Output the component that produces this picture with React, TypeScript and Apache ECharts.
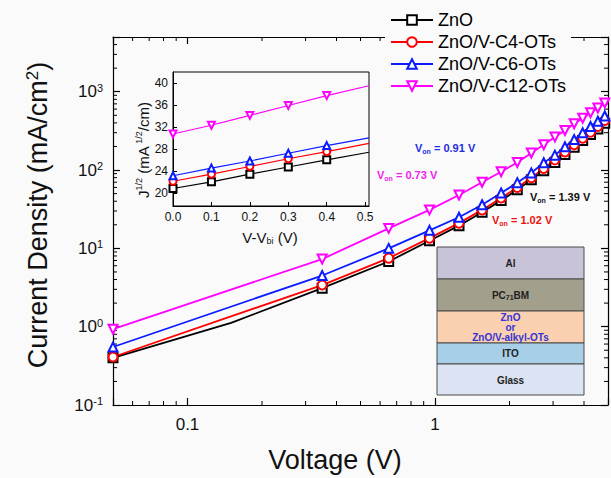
import React, { useEffect, useRef } from "react";
import * as echarts from "echarts";

const FONT = "'Liberation Sans', Arial, Helvetica, sans-serif";
const BG = "#fafafa";

// Main J-V data (log-log)
const voltage = [0.05, 0.35, 0.65, 0.95, 1.25, 1.55, 1.85, 2.15, 2.45, 2.75, 3.05, 3.35, 3.65, 3.95, 4.25, 4.55, 4.85];
const voltageZnO = [0.05, 0.15, 0.35, 0.65, 0.95, 1.25, 1.55, 1.85, 2.15, 2.45, 2.75, 3.05, 3.35, 3.65, 3.95, 4.25, 4.55, 4.85];
const jZnO = [0.4, 1.12, 3.1, 6.8, 12.5, 19.5, 29, 41, 56, 75, 98, 125, 158, 195, 238, 285, 335, 395];
const jC4 = [0.41, 3.4, 7.5, 13.5, 21, 31, 44, 60, 80, 105, 135, 170, 210, 255, 305, 360, 430];
const jC6 = [0.55, 4.5, 10, 17, 25, 36, 51, 69, 92, 124, 155, 198, 245, 300, 360, 420, 490];
const jC12 = [0.93, 7.3, 18, 31, 48, 70, 95, 125, 165, 210, 265, 320, 390, 460, 540, 620, 720];

// Inset: J^1/2 vs V - Vbi
const insetV = [0, 0.1, 0.2, 0.3, 0.4, 0.51];
const sqZnO = [20.8, 22.0, 23.4, 24.7, 26.0, 27.4];
const sqC4 = [22.1, 23.4, 24.8, 26.2, 27.5, 29.0];
const sqC6 = [23.1, 24.5, 25.8, 27.2, 28.6, 30.0];
const sqC12 = [30.7, 32.3, 34.1, 35.9, 37.7, 39.5];

const names = ["ZnO", "ZnO/V-C4-OTs", "ZnO/V-C6-OTs", "ZnO/V-C12-OTs"];
const colors = ["#000000", "#ff0000", "#0a1cff", "#ff00ff"];
const symbols = ["emptyRect", "emptyCircle", "emptyTriangle", "emptyTriangle"];
const rotations = [0, 0, 0, 180];

const xMinorTicks = [0.06, 0.07, 0.08, 0.09, 0.2, 0.3, 0.4, 0.5, 0.6, 0.7, 0.8, 0.9, 2, 3, 4];
const yMinorTicks = [
  0.2, 0.3, 0.4, 0.5, 0.6, 0.7, 0.8, 0.9,
  2, 3, 4, 5, 6, 7, 8, 9,
  20, 30, 40, 50, 60, 70, 80, 90,
  200, 300, 400, 500, 600, 700, 800, 900,
  2000, 3000, 4000,
];
const insetXTicks = [0, 0.1, 0.2, 0.3, 0.4, 0.5];
const insetYTicks = [20, 24, 28, 32, 36, 40];

const isDecade = (v: number) => Math.abs(Math.log10(v) - Math.round(Math.log10(v))) < 1e-6;

export default function App() {
  const ref = useRef<HTMLDivElement>(null);
  useEffect(() => {
    if (!ref.current) return;
    const chart = echarts.init(ref.current, null, { renderer: "svg" });

    const mainSeries = [
      { xs: voltageZnO, ys: jZnO, hide: [1] },
      { xs: voltage, ys: jC4, hide: [] as number[] },
      { xs: voltage, ys: jC6, hide: [] as number[] },
      { xs: voltage, ys: jC12, hide: [] as number[] },
    ].map((s, k) => ({
      type: "line",
      name: names[k],
      xAxisIndex: 0,
      yAxisIndex: 0,
      data: s.xs.map((x, i) => (s.hide.includes(i) ? { value: [x, s.ys[i]], symbol: "none" } : [x, s.ys[i]])),
      symbol: symbols[k],
      symbolSize: 9,
      symbolRotate: rotations[k],
      lineStyle: { color: colors[k], width: 1.8 },
      itemStyle: { color: colors[k], borderWidth: 1 },
      z: 3,
    }));

    const insetData = [sqZnO, sqC4, sqC6, sqC12];
    const insetSeries = insetData.map((ys, k) => ({
      type: "line",
      name: names[k],
      xAxisIndex: 2,
      yAxisIndex: 2,
      data: insetV.map((x, i) => (i === insetV.length - 1 ? { value: [x, ys[i]], symbol: "none" } : [x, ys[i]])),
      symbol: symbols[k],
      symbolSize: 7,
      symbolRotate: rotations[k],
      lineStyle: { color: colors[k], width: 1.1 },
      itemStyle: { color: colors[k], borderWidth: 0.9 },
      z: 3,
    }));

    const tickStyle = { stroke: "#000", lineWidth: 1 };

    const xMinorSeries = {
      type: "custom",
      xAxisIndex: 0,
      yAxisIndex: 0,
      silent: true,
      data: xMinorTicks.map((v) => [v, 1]),
      encode: { x: 0, y: 1 },
      renderItem: (params: any, api: any) => {
        const cs = params.coordSys;
        const x = api.coord([api.value(0), 1])[0];
        const b = cs.y + cs.height;
        return {
          type: "group",
          children: [
            { type: "line", shape: { x1: x, y1: b, x2: x, y2: b - 4 }, style: tickStyle },
            { type: "line", shape: { x1: x, y1: cs.y, x2: x, y2: cs.y + 4 }, style: tickStyle },
          ],
        };
      },
      z: 1,
    };
    const yMinorSeries = {
      type: "custom",
      xAxisIndex: 0,
      yAxisIndex: 0,
      silent: true,
      data: yMinorTicks.map((v) => [1, v]),
      encode: { x: 0, y: 1 },
      renderItem: (params: any, api: any) => {
        const cs = params.coordSys;
        const y = api.coord([1, api.value(1)])[1];
        const r = cs.x + cs.width;
        return {
          type: "group",
          children: [
            { type: "line", shape: { x1: cs.x, y1: y, x2: cs.x + 4, y2: y }, style: tickStyle },
            { type: "line", shape: { x1: r, y1: y, x2: r - 4, y2: y }, style: tickStyle },
          ],
        };
      },
      z: 1,
    };

    const axisLine = { show: true, lineStyle: { color: "#000", width: 1.2 } };
    const majorTick = { show: true, inside: true, length: 7, lineStyle: { color: "#000", width: 1.2 } };

    const supRich = {
      b: { fontSize: 17, fontFamily: FONT, color: "#111" },
      s: { fontSize: 11, fontFamily: FONT, color: "#111", verticalAlign: "top", padding: [0, 0, 8, 0] },
    };

    const mainText = (x: number, y: number, val: string, color: string) => ({
      type: "text",
      x,
      y,
      style: {
        text: `{v|V}{s|on}{v| = ${val} V}`,
        align: "left",
        verticalAlign: "middle",
        rich: {
          v: { fontSize: 11, fontWeight: "bold", fontFamily: FONT, fill: color },
          s: { fontSize: 7, fontWeight: "bold", fontFamily: FONT, fill: color, padding: [7, 0, 0, 0] },
        },
      },
      z: 10,
    });

    const stackX = 437;
    const stackW = 147;
    const layers = [
      { y: 247, h: 32, fill: "#c9c3d8" },
      { y: 279, h: 32, fill: "#a39f8d" },
      { y: 311, h: 32, fill: "#fad0b0" },
      { y: 343, h: 21, fill: "#a7cfe7" },
      { y: 364, h: 31, fill: "#dce4f3" },
    ];
    const cx = stackX + stackW / 2;
    const stackText = (y: number, text: string, color = "#222", rich?: any) => ({
      type: "text",
      x: cx,
      y,
      style: {
        text,
        align: "center",
        verticalAlign: "middle",
        fontSize: 10,
        fontWeight: "bold",
        fontFamily: FONT,
        fill: color,
        rich,
      },
      z: 21,
    });

    const option: any = {
      animation: false,
      backgroundColor: BG,
      textStyle: { fontFamily: FONT },
      legend: {
        orient: "vertical",
        left: 385,
        top: 6,
        padding: [5, 5, 5, 5],
        itemGap: 4,
        itemWidth: 42,
        itemHeight: 12,
        backgroundColor: BG,
        selectedMode: false,
        data: names,
        textStyle: { fontSize: 18, fontFamily: FONT, color: "#000", lineHeight: 18 },
        z: 20,
      },
      grid: [
        { left: 113, top: 37, width: 497, height: 368, containLabel: false },
        {
          left: 173,
          top: 72,
          width: 196,
          height: 134,
          show: true,
          borderColor: "#000",
          borderWidth: 1,
          backgroundColor: "transparent",
          containLabel: false,
        },
      ],
      xAxis: [
        {
          type: "log",
          logBase: 10,
          gridIndex: 0,
          position: "bottom",
          min: 0.05,
          max: 5,
          axisLine,
          axisTick: majorTick,
          splitLine: { show: false },
          axisLabel: {
            fontSize: 17,
            color: "#111",
            fontFamily: FONT,
            margin: 11,
            formatter: (v: number) => (isDecade(v) ? String(Number(v.toPrecision(6))) : ""),
          },
        },
        {
          type: "log",
          logBase: 10,
          gridIndex: 0,
          position: "top",
          min: 0.05,
          max: 5,
          axisLine,
          axisTick: majorTick,
          splitLine: { show: false },
          axisLabel: { show: false },
        },
        {
          type: "value",
          gridIndex: 1,
          min: 0,
          max: 0.51,
          axisLine: { show: true, lineStyle: { color: "#000", width: 1 } },
          axisTick: { show: true, inside: true, length: 4, customValues: insetXTicks, lineStyle: { color: "#000" } },
          splitLine: { show: false },
          axisLabel: {
            customValues: insetXTicks,
            fontSize: 12,
            color: "#111",
            fontFamily: FONT,
            margin: 5,
            formatter: (v: number) => v.toFixed(1),
          },
        },
      ],
      yAxis: [
        {
          type: "log",
          logBase: 10,
          gridIndex: 0,
          position: "left",
          min: 0.1,
          max: 5000,
          axisLine,
          axisTick: majorTick,
          splitLine: { show: false },
          axisLabel: {
            margin: 10,
            rich: supRich,
            formatter: (v: number) => (isDecade(v) ? `{b|10}{s|${Math.round(Math.log10(v))}}` : ""),
          },
        },
        {
          type: "log",
          logBase: 10,
          gridIndex: 0,
          position: "right",
          min: 0.1,
          max: 5000,
          axisLine,
          axisTick: majorTick,
          splitLine: { show: false },
          axisLabel: { show: false },
        },
        {
          type: "value",
          gridIndex: 1,
          min: 17.6,
          max: 42,
          axisLine: { show: true, lineStyle: { color: "#000", width: 1 } },
          axisTick: { show: true, inside: true, length: 4, customValues: insetYTicks, lineStyle: { color: "#000" } },
          splitLine: { show: false },
          axisLabel: {
            customValues: insetYTicks,
            fontSize: 12,
            color: "#111",
            fontFamily: FONT,
            margin: 5,
          },
        },
      ],
      series: [xMinorSeries, yMinorSeries, ...mainSeries, ...insetSeries],
      graphic: [
        {
          type: "text",
          x: 335,
          y: 460,
          style: { text: "Voltage (V)", fontSize: 27, fontFamily: FONT, fill: "#111", align: "center", verticalAlign: "middle" },
        },
        {
          type: "text",
          x: 38,
          y: 215,
          rotation: Math.PI / 2,
          style: {
            text: "{a|Current Density (mA/cm}{s|2}{a|)}",
            align: "center",
            verticalAlign: "middle",
            rich: {
              a: { fontSize: 27, fontFamily: FONT, fill: "#111" },
              s: { fontSize: 17, fontFamily: FONT, fill: "#111", padding: [0, 0, 12, 0] },
            },
          },
        },
        {
          type: "text",
          x: 270,
          y: 237,
          style: {
            text: "{a|V-V}{s|bi}{a| (V)}",
            align: "center",
            verticalAlign: "middle",
            rich: {
              a: { fontSize: 15, fontFamily: FONT, fill: "#111" },
              s: { fontSize: 9, fontFamily: FONT, fill: "#111", padding: [8, 0, 0, 0] },
            },
          },
        },
        {
          type: "text",
          x: 143,
          y: 150,
          rotation: Math.PI / 2,
          style: {
            text: "{a|J}{p|1/2}{a| (mA}{p| 1/2}{a|/cm)}",
            align: "center",
            verticalAlign: "middle",
            rich: {
              a: { fontSize: 15, fontFamily: FONT, fill: "#111" },
              p: { fontSize: 9, fontFamily: FONT, fill: "#111", padding: [0, 0, 8, 0] },
            },
          },
        },
        mainText(415, 148, "0.91", "#1f2fe0"),
        mainText(377, 175, "0.73", "#ee1fee"),
        mainText(530, 197, "1.39", "#111111"),
        mainText(492, 220, "1.02", "#ee1111"),
        ...layers.map((l) => ({
          type: "rect",
          shape: { x: stackX, y: l.y, width: stackW, height: l.h },
          style: { fill: l.fill, stroke: "#4a4a4a", lineWidth: 1 },
          z: 20,
        })),
        stackText(263, "Al"),
        stackText(295, "{a|PC}{s|71}{a|BM}", "#222", {
          a: { fontSize: 10, fontWeight: "bold", fontFamily: FONT, fill: "#222" },
          s: { fontSize: 7, fontWeight: "bold", fontFamily: FONT, fill: "#222", padding: [5, 0, 0, 0] },
        }),
        stackText(317, "ZnO", "#3434d4"),
        stackText(327, "or", "#3434d4"),
        stackText(337, "ZnO/V-alkyl-OTs", "#3434d4"),
        stackText(353, "ITO"),
        stackText(380, "Glass"),
      ],
    };

    chart.setOption(option);
    return () => chart.dispose();
  }, []);

  return (
    <div
      ref={ref}
      style={{ position: "fixed", left: 0, top: 0, width: 611, height: 478, background: BG }}
    />
  );
}
